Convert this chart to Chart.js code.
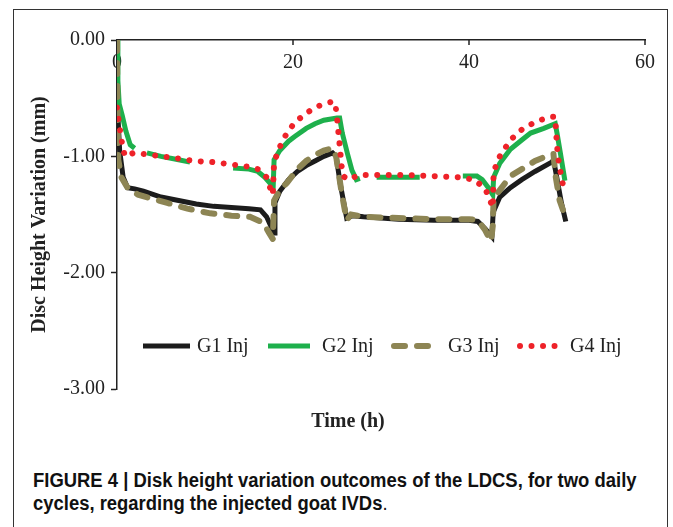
<!DOCTYPE html>
<html>
<head>
<meta charset="utf-8">
<script src="https://cdn.jsdelivr.net/npm/chart.js@4.4.1/dist/chart.umd.min.js"></script>
<style>
    body { margin: 0; background: #fff; }
    #page { position: relative; width: 673px; height: 527px; overflow: hidden; }
    #frame { position: absolute; left: 13px; top: 9px; width: 655px; height: 540px; border: 1.5px solid #333; box-sizing: border-box; }
    #chart { position: absolute; left: 0; top: 0; }
    #xTitle { position: absolute; left: 0; top: 408px; width: 696px; text-align: center;
        font: bold 20px "Liberation Serif", serif; color: #222; line-height: 24px; }
    #caption { position: absolute; left: 33px; top: 469px; white-space: nowrap;
        font: bold 20px "Liberation Sans", Arial, sans-serif; color: #111; line-height: 23px;
        transform: scaleX(0.922); transform-origin: left top; }
</style>
</head>
<body>
<div id="page">
    <div id="frame"></div>
    <canvas id="chart" width="673" height="440"></canvas>
    <div id="xTitle">Time (h)</div>
    <div id="caption">FIGURE 4 | Disk height variation outcomes of the LDCS, for two daily<br>cycles, regarding the injected goat IVDs<span style="font-weight:normal">.</span></div>
</div>
<script>
// values (hours, mm)
const xTicks = [0, 20, 40, 60];

const g1Hours = [0, 0.3, 0.7, 1.2, 2, 3, 5, 7, 9, 11, 13, 15, 16.3, 17, 17.6, 17.85, 17.95, 18.5, 19.5, 20.5, 21.5, 22.5, 23.5, 24.5, 24.9, 25.4, 26.1, 26.8, 28, 32, 36, 40, 41, 41.8, 42.6, 42.75, 43.5, 44.7, 46, 47.5, 49.4, 49.6, 49.9, 50.5, 51];
const g1Values = [-0.50, -0.95, -1.18, -1.27, -1.28, -1.30, -1.35, -1.38, -1.41, -1.43, -1.44, -1.45, -1.46, -1.52, -1.62, -1.66, -1.40, -1.30, -1.20, -1.13, -1.08, -1.04, -1.00, -0.97, -1.00, -1.25, -1.53, -1.51, -1.52, -1.54, -1.55, -1.55, -1.56, -1.62, -1.69, -1.48, -1.35, -1.27, -1.20, -1.13, -1.05, -1.03, -1.15, -1.40, -1.56];

const g2Hours = [0, 0.1, 0.25, 0.6, 1.0, 1.5, 2.0, 2.7, 3.4, 5, 7, 8.3, 10, 13.2, 15, 16, 16.8, 17.5, 17.75, 17.85, 18.5, 19.5, 20.2, 21.5, 22.5, 23.5, 25, 25.3, 25.6, 26.2, 26.7, 27.2, 27.6, 28.5, 29.5, 32, 34.4, 36, 39.3, 40.9, 41.5, 42.2, 42.7, 42.8, 43.5, 44.7, 46, 47, 48.5, 49.8, 50.0, 50.4, 50.9];
const g2Values = [0, -0.35, -0.55, -0.65, -0.78, -0.90, -0.93, null, -0.97, -1.00, -1.03, -1.05, null, -1.10, -1.11, -1.13, -1.18, -1.24, -1.26, -1.03, -0.95, -0.87, -0.83, -0.76, -0.72, -0.69, -0.67, -0.67, -0.80, -0.98, -1.12, -1.20, -1.19, null, -1.18, -1.18, -1.18, null, -1.17, -1.17, -1.20, -1.27, -1.33, -1.18, -1.06, -0.94, -0.86, -0.80, -0.76, -0.72, -0.80, -0.98, -1.21];

const g3Hours = [0, 0.05, 0.15, 0.5, 1.2, 2.4, 3.75, 5.7, 8, 10.6, 13, 15.1, 16.6, 17.3, 17.7, 17.85, 18.5, 19.3, 20.5, 21.5, 22.5, 23.5, 24.5, 24.9, 25.5, 26.1, 26.6, 28, 32, 36, 40, 41, 41.8, 42.5, 42.7, 42.8, 43.5, 44.7, 46, 47.5, 49.4, 49.6, 49.8, 50.3, 51];
const g3Values = [0, -0.60, -1.03, -1.18, -1.27, -1.33, -1.36, -1.40, -1.45, -1.49, -1.51, -1.52, -1.57, -1.66, -1.71, -1.38, -1.29, -1.23, -1.11, -1.04, -0.99, -0.95, -0.93, -1.00, -1.30, -1.55, -1.50, -1.52, -1.53, -1.54, -1.54, -1.55, -1.63, -1.73, -1.60, -1.36, -1.29, -1.17, -1.11, -1.04, -0.98, -0.98, -1.15, -1.38, -1.53];

const g4Hours = [0, 0.3, 0.6, 0.9, 1.9, 3, 5, 7, 8.7, 11, 12, 15, 16, 17, 17.3, 17.7, 17.85, 18.5, 19.3, 20.2, 21.3, 22.5, 23.5, 24.5, 24.8, 25.0, 25.3, 25.5, 25.7, 26.3, 27.5, 30, 33, 36, 39, 40.5, 41.8, 42.3, 42.7, 42.8, 43.5, 44.7, 46, 46.9, 48, 49.4, 49.8, 49.9, 50.1, 50.5, 50.8];
const g4Values = [-0.58, -0.75, -0.90, -1.00, -0.97, -0.98, -1.00, -1.02, -1.04, -1.05, -1.06, -1.09, -1.11, -1.18, -1.25, -1.33, -1.05, -0.92, -0.80, -0.71, -0.64, -0.58, -0.55, -0.53, -0.54, -0.67, -0.90, -1.07, -1.17, -1.20, -1.16, -1.16, -1.16, -1.17, -1.18, -1.20, -1.27, -1.36, -1.44, -1.13, -1.00, -0.86, -0.77, -0.73, -0.69, -0.66, -0.66, -0.80, -1.00, -1.18, -1.29];

function toPoints(hours, values) {
    return hours.map((h, i) => ({ x: h, y: values[i] }));
}

const serif = '"Liberation Serif", "Times New Roman", serif';

// x axis sits on top with its labels hanging inside the plot, so draw those by hand
const topAxisPlugin = {
    id: 'topAxis',
    beforeDatasetsDraw(chart) {
        const ctx = chart.ctx;
        const xs = chart.scales.x;
        const top = chart.chartArea.top;
        ctx.save();
        ctx.strokeStyle = '#222';
        ctx.lineWidth = 1.5;
        ctx.fillStyle = '#222';
        ctx.font = '20px ' + serif;
        ctx.textAlign = 'center';
        ctx.textBaseline = 'middle';
        xTicks.forEach(v => {
            const px = xs.getPixelForValue(v);
            ctx.beginPath();
            ctx.moveTo(px, top);
            ctx.lineTo(px, top + 5);
            ctx.stroke();
            ctx.fillText(String(v), px, top + 23);
        });
        ctx.restore();
    }
};

// legend inside the plot area, one row
const insideLegend = {
    id: 'insideLegend',
    afterDatasetsDraw(chart) {
        const ctx = chart.ctx;
        const y = 346;
        const lineStarts = [143, 268, 394, 520];
        const lineEnds = [190, 310, 434, 556];
        const textStarts = [197, 322, 448, 570];
        ctx.save();
        chart.data.datasets.forEach((ds, i) => {
            ctx.beginPath();
            ctx.strokeStyle = ds.borderColor;
            ctx.lineWidth = ds.borderWidth;
            ctx.lineCap = ds.borderCapStyle || 'butt';
            ctx.setLineDash(ds.borderDash || []);
            ctx.moveTo(lineStarts[i], y);
            ctx.lineTo(lineEnds[i], y);
            ctx.stroke();
            ctx.setLineDash([]);
            ctx.fillStyle = '#222';
            ctx.font = '20px ' + serif;
            ctx.textAlign = 'left';
            ctx.textBaseline = 'middle';
            ctx.fillText(ds.label, textStarts[i], y + 1);
        });
        ctx.restore();
    }
};

new Chart(document.getElementById('chart'), {
    type: 'line',
    data: {
        datasets: [
            { label: 'G1 Inj', data: toPoints(g1Hours, g1Values), borderColor: '#1c1c1c', borderWidth: 5, order: 4 },
            { label: 'G2 Inj', data: toPoints(g2Hours, g2Values), borderColor: '#1eb04c', borderWidth: 5, order: 3 },
            { label: 'G3 Inj', data: toPoints(g3Hours, g3Values), borderColor: '#8d8554', borderWidth: 6,
              borderDash: [11, 12], borderCapStyle: 'round', order: 2 },
            { label: 'G4 Inj', data: toPoints(g4Hours, g4Values), borderColor: '#ee2229', borderWidth: 6,
              borderDash: [0.01, 11.5], borderCapStyle: 'round', order: 1 }
        ]
    },
    options: {
        responsive: false,
        animation: false,
        devicePixelRatio: 1,
        spanGaps: false,
        elements: { point: { radius: 0 }, line: { tension: 0, fill: false } },
        layout: { padding: { left: 24, right: 28, top: 0, bottom: 51 } },
        plugins: { legend: { display: false }, tooltip: { enabled: false } },
        scales: {
            x: {
                type: 'linear',
                position: 'top',
                min: 0,
                max: 60,
                ticks: { display: false },
                grid: { drawOnChartArea: false, drawTicks: false },
                border: { color: '#222', width: 1.5 },
                afterFit(scale) { scale.height = 40; }
            },
            y: {
                min: -3,
                max: 0,
                ticks: {
                    stepSize: 1,
                    padding: 6,
                    color: '#222',
                    font: { family: serif, size: 20 },
                    callback: v => v.toFixed(2)
                },
                grid: { drawOnChartArea: false, tickLength: 6, tickColor: '#222', tickWidth: 1.5 },
                border: { color: '#222', width: 1.5 },
                title: {
                    display: true,
                    text: 'Disc Height Variation (mm)',
                    color: '#222',
                    font: { family: serif, size: 20, weight: 'bold' },
                    padding: 4
                },
                afterFit(scale) { scale.width = 93; }
            }
        }
    },
    plugins: [topAxisPlugin, insideLegend]
});
</script>
</body>
</html>
